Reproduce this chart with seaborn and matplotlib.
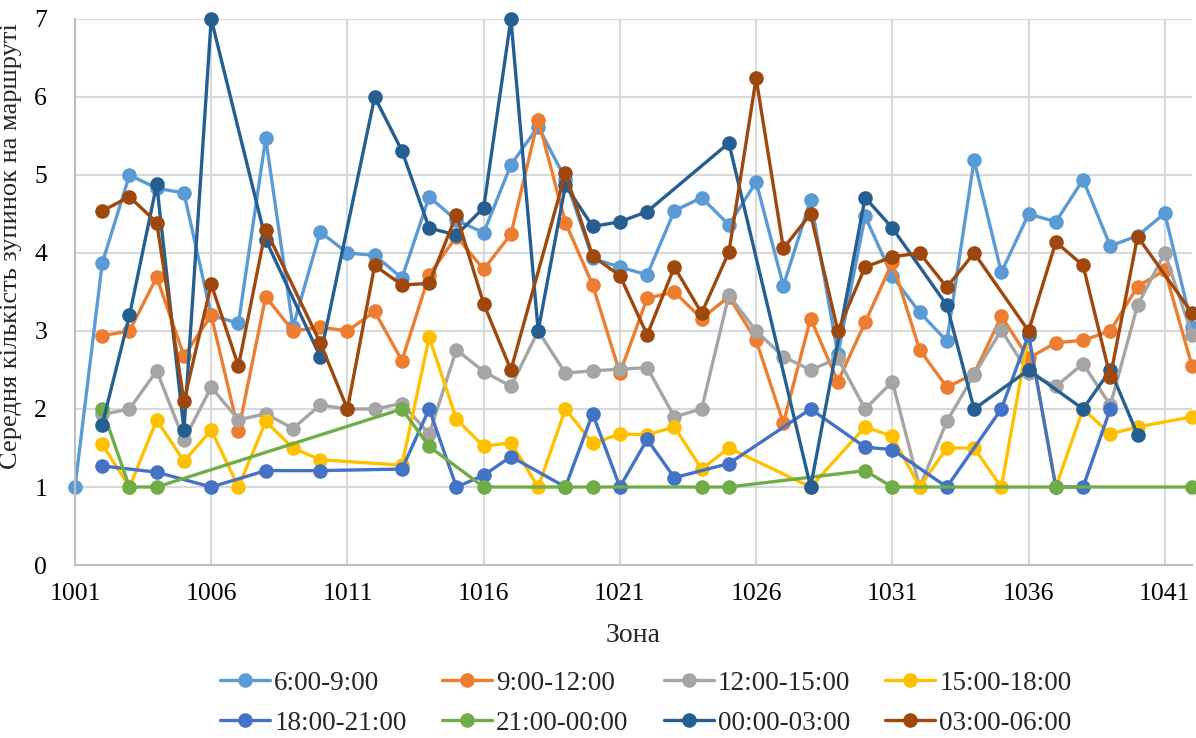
import numpy as np
import pandas as pd
import matplotlib
matplotlib.use("Agg")
import matplotlib.pyplot as plt
from matplotlib.lines import Line2D
import seaborn as sns

nan = np.nan

zones = [1001, 1002, 1003, 1004, 1005, 1006, 1007, 1008, 1009, 1010,
         1011, 1012, 1013, 1014, 1015, 1016, 1017, 1018, 1019, 1020,
         1021, 1022, 1023, 1024, 1025, 1026, 1027, 1028, 1029, 1030,
         1031, 1032, 1033, 1034, 1035, 1036, 1037, 1038, 1039, 1040,
         1041, 1042]

s_06_09 = [1.0, 3.87, 5.0, 4.83, 4.77, 3.2, 3.1, 5.47, 3.05, 4.27,
           4.0, 3.97, 3.68, 4.72, 4.42, 4.26, 5.13, 5.62, 4.95, 3.93,
           3.82, 3.72, 4.54, 4.71, 4.36, 4.91, 3.58, 4.68, 2.7, 4.47,
           3.70, 3.24, 2.87, 5.19, 3.75, 4.5, 4.40, 4.94, 4.09, 4.22,
           4.51, 3.05]

s_09_12 = [nan, 2.94, 3.0, 3.69, 2.68, 3.2, 1.72, 3.44, 3.0, 3.05,
           3.0, 3.25, 2.62, 3.72, 4.21, 3.79, 4.24, 5.71, 4.39, 3.59,
           2.46, 3.42, 3.5, 3.16, 3.44, 2.88, 1.82, 3.16, 2.35, 3.11,
           3.88, 2.76, 2.28, 2.45, 3.19, 2.65, 2.85, 2.88, 3.0, 3.57,
           3.78, 2.55]

s_12_15 = [nan, 1.93, 2.0, 2.49, 1.6, 2.28, 1.86, 1.94, 1.75, 2.05,
           2.0, 2.0, 2.07, 1.68, 2.76, 2.48, 2.29, 3.0, 2.46, 2.49,
           2.51, 2.53, 1.9, 2.0, 3.46, 3.0, 2.67, 2.5, 2.65, 2.0,
           2.35, 1.0, 1.84, 2.44, 3.01, 2.46, 2.29, 2.58, 2.05, 3.33,
           4.0, 2.95]

s_15_18 = [nan, 1.55, 1.0, 1.86, 1.33, 1.73, 1.0, 1.84, 1.5, 1.35,
           nan, nan, 1.28, 2.92, 1.87, 1.52, 1.57, 1.0, 2.0, 1.56,
           1.68, 1.67, 1.77, 1.23, 1.5, nan, nan, 1.0, nan, 1.77,
           1.65, 1.0, 1.5, 1.5, 1.0, 2.95, 1.0, 2.0, 1.68, 1.77,
           nan, 1.9]

s_18_21 = [nan, 1.27, nan, 1.19, nan, 1.0, nan, 1.21, nan, 1.21,
           nan, nan, 1.23, 2.0, 1.0, 1.15, 1.39, nan, 1.0, 1.94,
           1.0, 1.61, 1.12, nan, 1.30, nan, nan, 2.0, nan, 1.51,
           1.48, nan, 1.0, nan, 2.0, 2.95, 1.0, 1.0, 2.0, nan,
           nan, nan]

s_21_00 = [nan, 2.0, 1.0, 1.0, nan, nan, nan, nan, nan, nan,
           nan, nan, 2.0, 1.52, nan, 1.0, nan, nan, 1.0, 1.0,
           nan, nan, nan, 1.0, 1.0, nan, nan, nan, nan, 1.21,
           1.0, nan, nan, nan, nan, nan, 1.0, nan, nan, nan,
           nan, 1.0]

s_00_03 = [nan, 1.8, 3.2, 4.88, 1.73, 7.0, nan, 4.17, nan, 2.67,
           nan, 6.0, 5.31, 4.32, 4.23, 4.58, 7.0, 3.0, 4.87, 4.34,
           4.40, 4.53, nan, nan, 5.41, nan, nan, 1.0, nan, 4.71,
           4.32, nan, 3.33, 2.0, nan, 2.5, nan, 2.0, 2.5, 1.67,
           nan, nan]

s_03_06 = [nan, 4.54, 4.72, 4.39, 2.1, 3.6, 2.55, 4.30, nan, 2.85,
           2.0, 3.84, 3.59, 3.61, 4.49, 3.35, 2.5, nan, 5.02, 3.96,
           3.71, 2.95, 3.82, 3.23, 4.01, 6.24, 4.06, 4.5, 3.0, 3.82,
           3.95, 4.0, 3.56, 4.0, nan, 3.0, 4.14, 3.84, 2.41, 4.21,
           nan, 3.23]

series_labels = ["6:00-9:00", "9:00-12:00", "12:00-15:00", "15:00-18:00",
                 "18:00-21:00", "21:00-00:00", "00:00-03:00", "03:00-06:00"]
series_values = [s_06_09, s_09_12, s_12_15, s_15_18,
                 s_18_21, s_21_00, s_00_03, s_03_06]
series_colors = ["#5B9BD5", "#ED7D31", "#A5A5A5", "#FFC000",
                 "#4472C4", "#70AD47", "#255E91", "#9E480E"]

# Long table; gaps are dropped so each line bridges missing zones
frames = []
for label, vals in zip(series_labels, series_values):
    frames.append(pd.DataFrame({"zone": zones, "value": vals, "series": label}))
df = pd.concat(frames, ignore_index=True).dropna()

sns.set_style("white")
plt.rcParams["font.family"] = ["Liberation Serif", "DejaVu Serif"]

fig = plt.figure(figsize=(11.96, 7.38), dpi=100)
ax = fig.add_axes([0.0627, 0.2344, 0.934, 0.7399])

lw = 2.4
ms = 10.5
sns.lineplot(data=df, x="zone", y="value", hue="series",
             hue_order=series_labels, palette=series_colors,
             estimator=None, sort=True, marker="o", markersize=ms,
             markeredgewidth=0, linewidth=lw, legend=False, ax=ax)
for ln in ax.lines:
    ln.set_clip_on(False)

ax.set_xlim(1001, 1042)
ax.set_ylim(0, 7)
ax.set_xticks(zones[::5])
ax.set_xticklabels([str(z) for z in zones[::5]])
ax.set_yticks(range(0, 8))

ax.grid(True, color="#D9D9D9", linewidth=1.5)
ax.set_axisbelow(True)
for side in ["top", "right"]:
    ax.spines[side].set_visible(False)
for side in ["left", "bottom"]:
    ax.spines[side].set_color("#BFBFBF")
    ax.spines[side].set_linewidth(1.5)
ax.tick_params(axis="both", length=0, labelsize=18.5, colors="black")
ax.tick_params(axis="x", pad=13)
ax.tick_params(axis="y", pad=20)

ax.set_xlabel("Зона", fontsize=20, labelpad=13)
ax.set_ylabel("Середня кількість зупинок на маршруті", fontsize=19)
ax.yaxis.set_label_coords(-0.047, 0.585)

# Row-wise legend: matplotlib fills columns first, so interleave entries
ncol = 4
order = [r * ncol + c for c in range(ncol) for r in range(2)]
handles = [Line2D([0], [0], color=series_colors[i], linewidth=lw, marker="o",
                  markersize=ms, markeredgewidth=0) for i in order]
labels = [series_labels[i] for i in order]
fig.legend(handles, labels, loc="center", ncol=ncol,
           bbox_to_anchor=(0.54, 0.047), frameon=False, fontsize=19.5,
           handlelength=1.85, handletextpad=0.15, columnspacing=1.3,
           labelspacing=0.55)

fig.savefig("out.png", dpi=100)
